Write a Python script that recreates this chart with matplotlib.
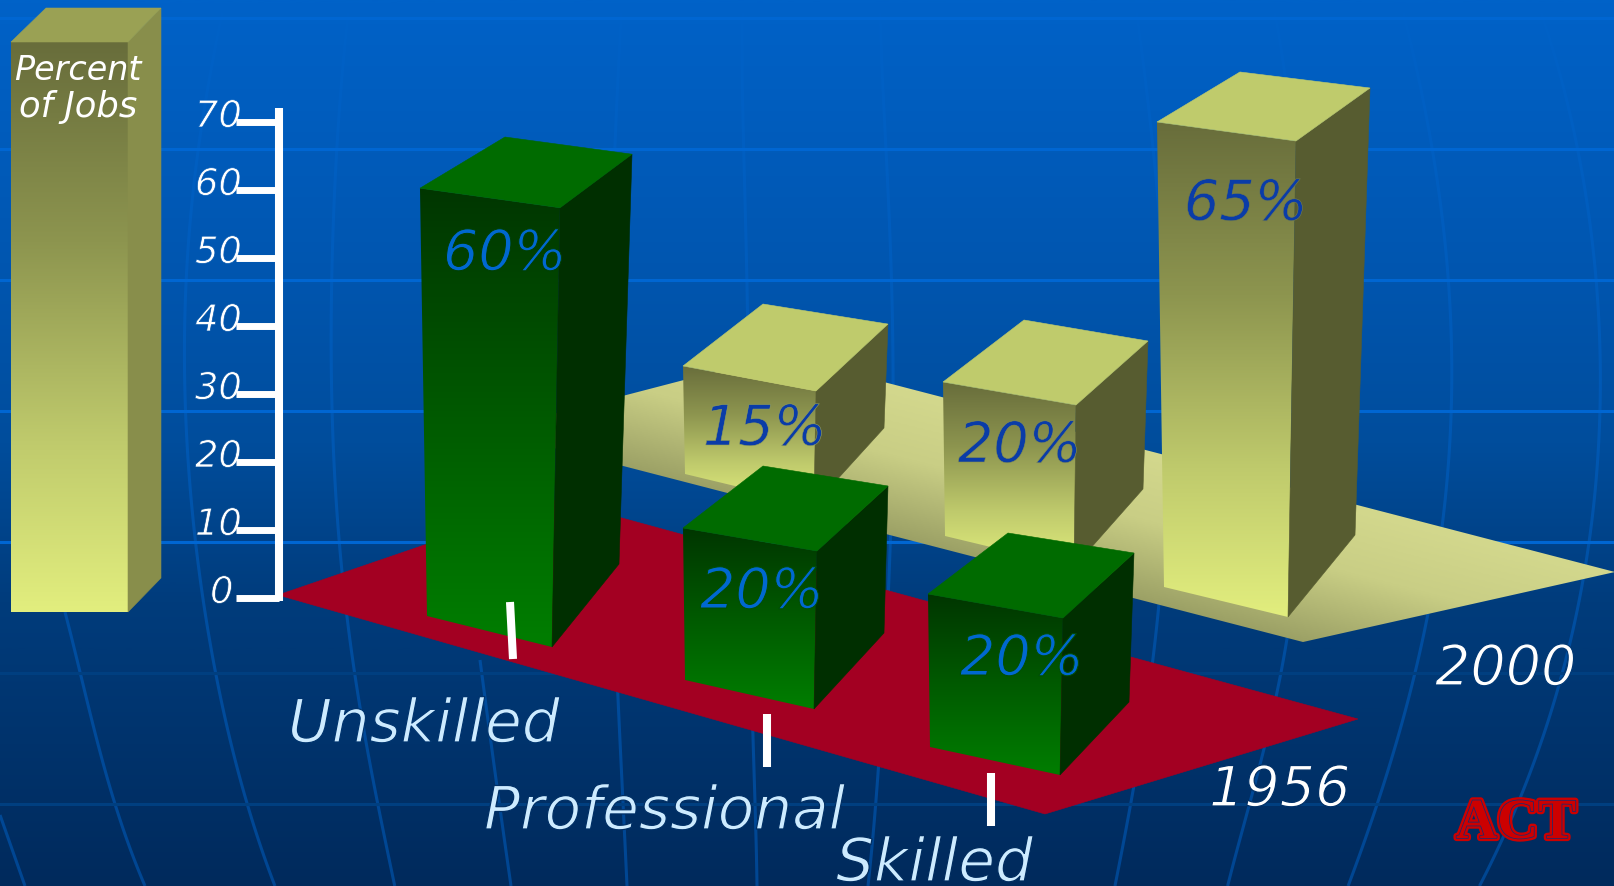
import numpy as np
import matplotlib
matplotlib.use("Agg")
import matplotlib.pyplot as plt
import matplotlib.patheffects as pe
from matplotlib.colors import LinearSegmentedColormap, to_hex
from matplotlib.patches import Polygon

# Chart values
categories = ["Unskilled", "Professional", "Skilled"]
pct_1956 = [60, 20, 20]
pct_2000 = [15, 20, 65]
years = ["1956", "2000"]
axis_ticks = [0, 10, 20, 30, 40, 50, 60, 70]

W, H = 1615, 886
FONT = "DejaVu Sans"

# Pixel scale of the percent axis
AXIS_ZERO = 598
AXIS_PX = 6.8

# Floor corners of each bar: front-left, front-right, back-right, back-left
base_1956 = [
    [(427, 616), (552, 647), (619, 564), (494, 533)],
    [(685, 680), (814, 709), (884, 633), (755, 605)],
    [(930, 747), (1060, 775), (1129, 702), (999, 674)],
]
base_2000 = [
    [(685, 474), (814, 505), (884, 428), (755, 397)],
    [(945, 536), (1074, 567), (1143, 489), (1014, 458)],
    [(1164, 587), (1288, 617), (1355, 535), (1231, 505)],
]
# Per-percent rise of the same four corners (perspective makes them differ)
rise_1956 = [
    [(-0.117, -7.13), (0.133, -7.32), (0.217, -6.83), (0.183, -6.60)],
    [(-0.10, -7.60), (0.15, -7.90), (0.20, -7.35), (0.40, -6.95)],
    [(-0.10, -7.65), (0.15, -7.85), (0.25, -7.45), (0.45, -7.05)],
]
rise_2000 = [
    [(-0.133, -7.20), (0.133, -7.60), (0.267, -6.93), (0.533, -6.20)],
    [(-0.10, -7.70), (0.10, -8.10), (0.25, -7.40), (0.50, -6.90)],
    [(-0.108, -7.154), (0.123, -7.323), (0.231, -6.877), (0.138, -6.662)],
]

# Label anchors: left edge and baseline
cat_pos = [(288, 742), (484, 829), (836, 881)]
year_pos = [(1209, 806), (1435, 685)]
pct_pos_1956 = [(443, 270), (700, 608), (960, 675)]
pct_pos_2000 = [(703, 445), (958, 462), (1184, 220)]
tick_marks = [((510, 602), (513, 659)), ((767, 714), (767, 767)), ((991, 773), (991, 826))]

# Globe grid behind the chart
parallels_bright = [18, 149, 280, 411, 542]
parallels_dim = [673, 804]
meridians = [
    [(0, 815), (25, 886)],
    [(65, 612), (80, 672), (115, 804), (145, 886)],
    [(225, 0), (200, 140), (190, 215), (185, 340), (187, 440), (197, 560), (216, 672), (247, 804), (275, 886)],
    [(350, 0), (338, 120), (335, 200), (331, 340), (333, 440), (343, 590), (356, 673), (377, 804), (395, 886)],
    [(480, 660), (492, 750), (511, 886)],
    [(622, 0), (615, 145), (610, 400), (614, 600), (627, 886)],
    [(743, 0), (745, 200), (748, 350), (750, 600), (754, 770), (757, 886)],
    [(880, 0), (886, 150), (892, 300), (888, 600), (876, 800), (868, 886)],
    [(1135, 0), (1150, 120), (1165, 300), (1168, 420), (1158, 610), (1152, 670), (1133, 790), (1115, 886)],
    [(1272, 0), (1285, 80), (1300, 280), (1303, 420), (1300, 500), (1287, 640), (1277, 700), (1263, 750), (1247, 810), (1228, 886)],
    [(1400, 0), (1433, 150), (1447, 280), (1452, 420), (1443, 520), (1428, 615), (1413, 673), (1393, 760), (1377, 803), (1348, 886)],
    [(1537, 0), (1577, 150), (1597, 280), (1602, 370), (1599, 400), (1588, 530), (1567, 673), (1543, 730), (1517, 803), (1480, 886)],
]

fig = plt.figure(figsize=(W / 100, H / 100), dpi=100)
ax = fig.add_axes([0, 0, 1, 1])
ax.set_xlim(0, W)
ax.set_ylim(H, 0)
ax.axis("off")


def ramp(stops):
    return LinearSegmentedColormap.from_list("ramp", stops, N=256)


bg = ramp([(0, "#0062C8"), (0.32, "#0055AE"), (0.5, "#004D9C"), (0.68, "#003C7C"), (1, "#002A5C")])
khaki_front = [(0, "#686D3B"), (0.35, "#8D954F"), (0.7, "#BFCA6C"), (1, "#E2EE7E")]
green_front = [(0, "#003600"), (1, "#007E00")]


def bg_at(y):
    return to_hex(bg(y / H))


def vertical_fill(verts, stops, z):
    # Polygon filled with a top-to-bottom colour ramp
    v = np.array(verts, dtype=float)
    x0, x1, y0, y1 = v[:, 0].min(), v[:, 0].max(), v[:, 1].min(), v[:, 1].max()
    grad = np.linspace(0, 1, 256).reshape(-1, 1)
    im = ax.imshow(grad, cmap=ramp(stops), extent=(x0, x1, y1, y0), aspect="auto", zorder=z, vmin=0, vmax=1)
    clip = Polygon(v, transform=ax.transData, facecolor="none", edgecolor="none")
    ax.add_patch(clip)
    im.set_clip_path(clip)


def flat(verts, color, z):
    ax.add_patch(Polygon(verts, closed=True, facecolor=color, edgecolor=color, linewidth=0.4, zorder=z))


def draw_bar(base, rise, value, front_stops, side, top, z):
    b = np.array(base, dtype=float)
    t = b + value * np.array(rise, dtype=float)
    vertical_fill([b[0], b[1], t[1], t[0]], front_stops, z)
    flat([b[1], b[2], t[2], t[1]], side, z + 0.1)
    flat([t[0], t[1], t[2], t[3]], top, z + 0.2)
    return t[:2, 1].mean(), b[:2, 1].mean()


def label(x, y, s, color, size, under, thin=0.9, z=12):
    # Oblique text, with the glyph edges shaved in the colour lying under it
    ax.text(x, y, s, color=color, fontsize=size, family=FONT, style="italic", ha="left", va="baseline",
            zorder=z, path_effects=[pe.Stroke(linewidth=thin, foreground=under)])


# Background
ax.imshow(np.linspace(0, 1, 512).reshape(-1, 1), cmap=bg, extent=(0, W, H, 0), aspect="auto", zorder=0)
for m in meridians:
    pts = np.array(m, dtype=float)
    coef = np.polyfit(pts[:, 1], pts[:, 0], min(len(pts) - 1, 5))
    ys = np.linspace(pts[0, 1], pts[-1, 1], 120)
    ax.plot(np.polyval(coef, ys), ys, color="#0062C8", alpha=0.5, lw=2.2, zorder=1, solid_capstyle="butt")
for y in parallels_bright:
    ax.plot([0, W], [y, y], color="#0066D2", lw=2.2, zorder=1.1)
for y in parallels_dim:
    ax.plot([0, W], [y, y], color="#003F80", lw=2.2, zorder=1.1)

# Rear floor, shaded across its front edge
floor_back = np.array([(488, 431), (780, 355), (1615, 572), (1303, 642)], dtype=float)
xx, yy = np.meshgrid(np.arange(0, W, 2), np.arange(0, H, 2))
front_edge = 642 + 0.2576 * (xx - 1303)
shade = np.clip((front_edge - yy) / 150, 0, 1)
floor_cmap = ramp([(0, "#9BA065"), (0.55, "#C9CE85"), (1, "#D3D88D")])
im = ax.imshow(shade, cmap=floor_cmap, extent=(0, W, H, 0), aspect="auto", zorder=2, vmin=0, vmax=1)
clip = Polygon(floor_back, transform=ax.transData, facecolor="none", edgecolor="none")
ax.add_patch(clip)
im.set_clip_path(clip)

# Bars of the rear row
spans_2000 = []
for i in range(3):
    spans_2000.append(draw_bar(base_2000[i], rise_2000[i], pct_2000[i], khaki_front, "#575C30", "#BFCB6C", 3 + i))

# Front floor
flat([(278, 595), (556, 500), (1358, 719), (1045, 814)], "#A30022", 7)

# Percent axis
for v in axis_ticks:
    y = AXIS_ZERO - AXIS_PX * v
    ax.plot([236, 279], [y, y], color="white", lw=5, zorder=8, solid_capstyle="butt")
    x_left = (239 if v else 232) - (44 if v else 22)
    label(x_left, y + 5, str(v), "white", 26.5, bg_at(y), thin=0.5, z=7.5)
ax.plot([279, 279], [108, AXIS_ZERO + 3], color="white", lw=5.8, zorder=8, solid_capstyle="butt")

# Bars of the front row
spans_1956 = []
for i in range(3):
    spans_1956.append(draw_bar(base_1956[i], rise_1956[i], pct_1956[i], green_front, "#002F00", "#006B00", 9 + i * 0.5))

# Category ticks and labels
for (p, q), name, pos in zip(tick_marks, categories, cat_pos):
    ax.plot([p[0], q[0]], [p[1], q[1]], color="white", lw=5.8, zorder=11, solid_capstyle="butt")
    label(pos[0], pos[1], name, "#CDEBFF", 43, bg_at(pos[1] - 20))

for name, pos in zip(years, year_pos):
    label(pos[0], pos[1], name, "white", 40, bg_at(pos[1] - 20))

# Value labels, shaved with the ramp colour at the label's height
for v, pos, span in zip(pct_1956, pct_pos_1956, spans_1956):
    f = (pos[1] - 18 - span[0]) / (span[1] - span[0])
    label(pos[0], pos[1], f"{v}%", "#0068D0", 40, to_hex(ramp(green_front)(f)), thin=0.7)
for v, pos, span in zip(pct_2000, pct_pos_2000, spans_2000):
    f = (pos[1] - 18 - span[0]) / (span[1] - span[0])
    label(pos[0], pos[1], f"{v}%", "#0A3CA8", 40, to_hex(ramp(khaki_front)(f)), thin=0.4)

# Axis title block
box_front = [(11, 42), (128, 42), (128, 612), (11, 612)]
vertical_fill(box_front, khaki_front, 3)
flat([(128, 42), (161, 8), (161, 578), (128, 612)], "#888E4B", 3.1)
flat([(11, 42), (46, 8), (161, 8), (128, 42)], "#9AA154", 3.2)
ax.text(14, 80, "Percent", color="white", fontsize=24, family=FONT, style="italic", ha="left", va="baseline", zorder=12)
ax.text(19, 117, "of Jobs", color="white", fontsize=25.5, family=FONT, style="italic", ha="left", va="baseline", zorder=12)

# Logo
ax.text(1456, 838, "ACT", color="#CC0000", fontsize=41, family="Liberation Serif", weight="bold",
        ha="left", va="baseline", zorder=12,
        path_effects=[pe.Stroke(linewidth=4.5, foreground="#CC0000"),
                      pe.Stroke(linewidth=1.1, foreground="#1C2A6E"),
                      pe.Normal()])

ax.set_xlim(0, W)
ax.set_ylim(H, 0)
fig.savefig("out.png", dpi=100)
